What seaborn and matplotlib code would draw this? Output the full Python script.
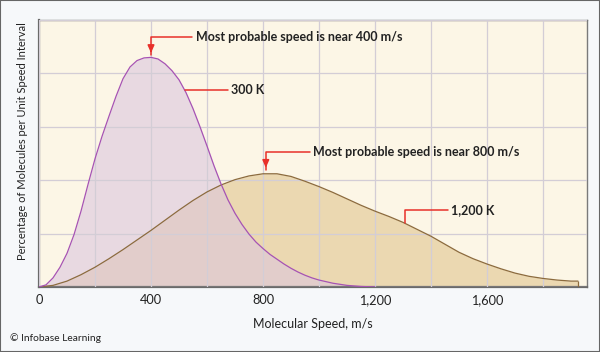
import matplotlib.pyplot as plt
import numpy as np
import pandas as pd
import seaborn as sns
from matplotlib.patches import Rectangle

# Speed distribution curves (relative units, 1 = one grid row)
speed_300k = [0, 25, 50, 75, 100, 125, 150, 175, 200, 225, 250, 275, 300, 325, 350,
              375, 400, 425, 450, 475, 500, 525, 550, 575, 600, 625, 650, 675, 700,
              725, 750, 775, 800, 825, 850, 875, 900, 925, 950, 975, 1000, 1025,
              1050, 1075, 1100, 1125, 1150, 1175, 1200]
share_300k = [0, 0.04, 0.17, 0.37, 0.63, 0.98, 1.42, 1.92, 2.40, 2.82, 3.20, 3.57, 3.90, 4.12, 4.24,
              4.29, 4.30, 4.27, 4.18, 4.05, 3.88, 3.64, 3.34, 3.00, 2.64, 2.27, 1.93, 1.63, 1.38,
              1.17, 0.99, 0.84, 0.72, 0.61, 0.52, 0.43, 0.35, 0.28, 0.22, 0.17, 0.13, 0.10,
              0.07, 0.05, 0.03, 0.02, 0.01, 0.005, 0]

speed_1200k = [0, 50, 100, 150, 200, 250, 300, 350, 400, 450, 500, 550, 600, 650,
               700, 750, 800, 850, 900, 950, 1000, 1050, 1100, 1150, 1200, 1250,
               1300, 1350, 1400, 1450, 1500, 1550, 1600, 1650, 1700, 1750, 1800,
               1850, 1900, 1925]
share_1200k = [0, 0.03, 0.11, 0.23, 0.37, 0.53, 0.70, 0.88, 1.06, 1.25, 1.44, 1.62, 1.78, 1.91,
               2.01, 2.08, 2.12, 2.12, 2.07, 1.98, 1.88, 1.77, 1.65, 1.53, 1.42, 1.32,
               1.21, 1.08, 0.95, 0.80, 0.65, 0.53, 0.43, 0.34, 0.26, 0.20, 0.16,
               0.13, 0.11, 0.11]

x_ticks = [0, 400, 800, 1200, 1600]
x_tick_labels = ["0", "400", "800", "1,200", "1,600"]

df300 = pd.DataFrame({"speed": speed_300k, "share": share_300k})
df1200 = pd.DataFrame({"speed": speed_1200k, "share": share_1200k})

sns.set_style("white")
plt.rcParams["font.family"] = ["Lato", "DejaVu Sans"]

fig = plt.figure(figsize=(6, 3.52), dpi=100, facecolor="#F6F8FA")
ax = fig.add_axes([0.065, 0.1847, 0.9133, 0.7585])
ax.set_facecolor("#FCF6E6")

# fills
ax.fill_between(df1200["speed"], df1200["share"], color="#EBD8B1", zorder=1, lw=0)
ax.fill_between(df300["speed"], df300["share"], color="#DCC6DE", alpha=0.6, zorder=1.2, lw=0)

# curves
sns.lineplot(data=df1200, x="speed", y="share", color="#8C6B3E", lw=0.9, ax=ax, zorder=3)
sns.lineplot(data=df300, x="speed", y="share", color="#A653B4", lw=0.9, ax=ax, zorder=3)
ax.vlines(speed_1200k[-1], 0, share_1200k[-1], color="#8C6B3E", lw=0.9, zorder=3)

ax.set_xlim(0, 1957)
ax.set_ylim(0, 5.0)
ax.set_xticks(x_ticks)
ax.set_xticklabels(x_tick_labels, fontsize=9.2, color="#222222")
ax.set_xticks(np.arange(200, 1801, 400), minor=True)
ax.set_yticks(np.arange(0, 5.01, 1))
ax.set_yticklabels([])
ax.tick_params(axis="both", which="both", length=0, pad=5)
ax.set_axisbelow(False)
ax.grid(True, which="both", color="#D3CDD6", lw=0.9)

for side in ["left", "bottom"]:
    ax.spines[side].set_color("#6A6A6A")
    ax.spines[side].set_linewidth(1.6)
for side in ["top", "right"]:
    ax.spines[side].set_color("#7A7A7A")
    ax.spines[side].set_linewidth(1.0)

ax.set_xlabel("")
ax.set_ylabel("")
fig.text(0.522, 0.079, "Molecular Speed, m/s", ha="center", va="center", fontsize=9, color="#222222")
fig.text(0.038, 0.60, "Percentage of Molecules per Unit Speed Interval", rotation=90,
         ha="center", va="center", fontsize=8.0, color="#222222")
fig.text(0.017, 0.04, "\u00a9 Infobase Learning", ha="left", va="center", fontsize=7.4, color="#222222")

# callouts
red = "#E8302A"
txt = dict(fontsize=9.0, fontweight="bold", color="#222222", va="center", ha="left")

ax.plot([400, 400, 548], [4.34, 4.68, 4.68], color=red, lw=1.1, zorder=4)
ax.annotate("", xy=(400, 4.33), xytext=(400, 4.5),
            arrowprops=dict(arrowstyle="-|>,head_length=0.45,head_width=0.2", color=red, lw=1.1), zorder=4)
ax.text(560, 4.68, "Most probable speed is near 400 m/s", **txt)

ax.plot([521, 675], [3.69, 3.69], color=red, lw=1.1, zorder=4)
ax.text(686, 3.69, "300 K", **txt)

ax.plot([810, 810, 968], [2.2, 2.53, 2.53], color=red, lw=1.1, zorder=4)
ax.annotate("", xy=(810, 2.18), xytext=(810, 2.36),
            arrowprops=dict(arrowstyle="-|>,head_length=0.45,head_width=0.2", color=red, lw=1.1), zorder=4)
ax.text(979, 2.53, "Most probable speed is near 800 m/s", **txt)

ax.plot([1307, 1307, 1461], [1.20, 1.44, 1.44], color=red, lw=1.1, zorder=4)
ax.text(1471, 1.44, "1,200 K", **txt)

fig.patches.append(Rectangle((0, 0), 1, 1, transform=fig.transFigure, fill=False,
                             edgecolor="#666666", lw=1.5))

fig.savefig("out.png", dpi=100, facecolor=fig.get_facecolor())
